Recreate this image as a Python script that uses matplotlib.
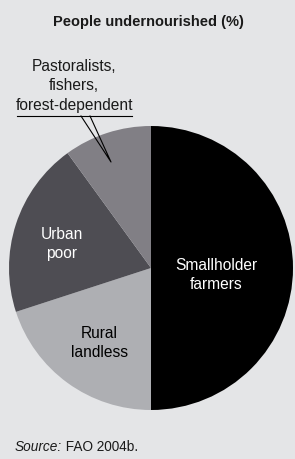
import matplotlib
matplotlib.use('Agg')
import matplotlib.pyplot as plt

# data
groups = ['Smallholder\nfarmers', 'Rural\nlandless', 'Urban\npoor',
          'Pastoralists,\nfishers,\nforest-dependent']
shares = [50, 20, 20, 10]
colors = ['#000000', '#aeafb3', '#4e4d53', '#817f85']
title = 'People undernourished (%)'
source = 'FAO 2004b.'

BG = '#e4e5e7'
plt.rcParams['font.family'] = ['Liberation Sans', 'DejaVu Sans']

fig = plt.figure(figsize=(2.95, 4.6), dpi=100, facecolor=BG)
ax = fig.add_axes([0, 0, 1, 1])
ax.set_facecolor(BG)

ax.pie(shares, colors=colors, startangle=90, counterclock=False,
       center=(151, 191), radius=142,
       wedgeprops=dict(linewidth=0))
ax.set_xlim(0, 295)
ax.set_ylim(0, 460)
ax.set_aspect('auto')
ax.axis('off')

ax.text(148, 438, title, ha='center', va='center', fontsize=10.5,
        fontweight='bold', color='#1a1a1a')

lab = dict(ha='center', va='center', fontsize=11.2, linespacing=1.38)
ax.text(216, 185, groups[0], color='white', **lab)
ax.text(99, 117, groups[1], color='black', **lab)
ax.text(62, 216, groups[2], color='white', **lab)
ax.text(74, 374, groups[3], color='#1a1a1a', **lab)

# underline and wedge pointer for the small slice label
ax.plot([17, 132], [343, 343], color='black', lw=0.8)
ax.plot([81, 111, 90], [343, 297, 343], color='black', lw=0.8)

src = ax.text(15, 13, 'Source:', ha='left', va='center', fontsize=9.8,
              style='italic', color='#1a1a1a')
ax.annotate(' ' + source, xy=(1, 0.5), xycoords=src, ha='left', va='center',
            fontsize=9.8, color='#1a1a1a')

fig.savefig('out.png', dpi=100, facecolor=BG)
